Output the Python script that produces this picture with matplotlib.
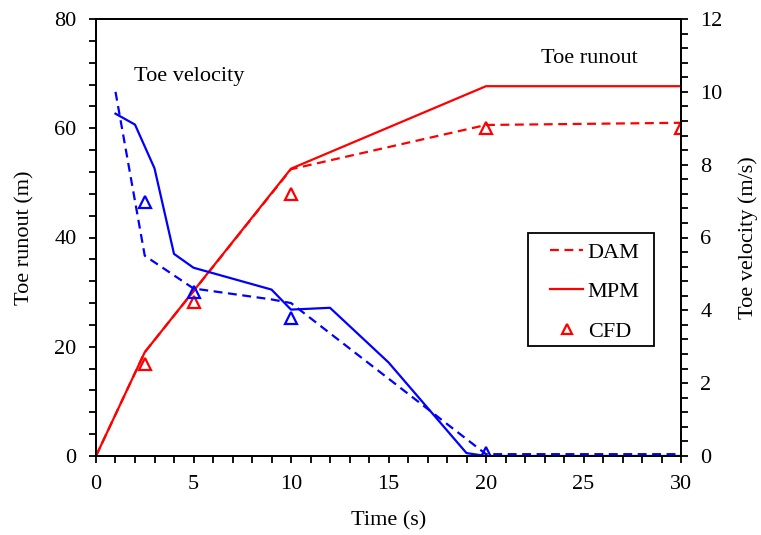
import matplotlib
matplotlib.use("Agg")
import matplotlib.pyplot as plt
from matplotlib.patches import Rectangle
from matplotlib.ticker import MultipleLocator

plt.rcParams['font.family'] = ['Liberation Serif', 'DejaVu Serif']
plt.rcParams['font.size'] = 16

# toe runout (m), left axis
dam_run_t = [0, 2.5, 10, 20, 30]
dam_run = [0, 19, 52.5, 60.6, 61.0]
mpm_run_t = [0, 2.5, 10, 20, 30]
mpm_run = [0, 19, 52.6, 67.7, 67.7]
cfd_run_t = [2.5, 5, 10, 20, 30]
cfd_run = [16.9, 28.2, 48.0, 60.0, 60.0]

# toe velocity (m/s), right axis
dam_vel_t = [1, 2.5, 5, 9, 10, 20, 30]
dam_vel = [10.0, 5.5, 4.6, 4.3, 4.2, 0.05, 0.05]
mpm_vel_t = [1, 2, 3, 4, 5, 9, 10, 12, 15, 19, 20, 30]
mpm_vel = [9.4, 9.1, 7.9, 5.55, 5.17, 4.57, 4.02, 4.07, 2.57, 0.08, 0.0, 0.0]
cfd_vel_t = [2.5, 5, 10, 20]
cfd_vel = [6.97, 4.5, 3.8, 0.09]

red = '#ff0000'
blue = '#0000ff'
dash = (0, (4, 2.5))

W, H = 761, 535
fig = plt.figure(figsize=(W / 100, H / 100), dpi=100)
ax = fig.add_axes([96 / W, 1 - 456 / H, 585 / W, 437 / H])
ax2 = ax.twinx()

l1, = ax.plot(dam_run_t, dam_run, color=red, lw=1.6, linestyle=dash, label='DAM')
l2, = ax.plot(mpm_run_t, mpm_run, color=red, lw=1.6, label='MPM')
l3, = ax.plot(cfd_run_t, cfd_run, linestyle='none', marker='^', ms=8,
              mfc='none', mec=red, mew=1.6, label='CFD')

ax2.plot(dam_vel_t, dam_vel, color=blue, lw=1.6, linestyle=dash)
ax2.plot(mpm_vel_t, mpm_vel, color=blue, lw=1.6)
ax2.plot(cfd_vel_t, cfd_vel, linestyle='none', marker='^', ms=8,
         mfc='none', mec=blue, mew=1.6)

ax.set_xlim(0, 30)
ax.set_ylim(0, 80)
ax2.set_ylim(0, 12)
ax.xaxis.set_major_locator(MultipleLocator(5))
ax.xaxis.set_minor_locator(MultipleLocator(1))
ax.yaxis.set_major_locator(MultipleLocator(20))
ax.yaxis.set_minor_locator(MultipleLocator(4))
ax2.yaxis.set_major_locator(MultipleLocator(2))
ax2.yaxis.set_minor_locator(MultipleLocator(0.4))

for a in (ax, ax2):
    a.tick_params(which='both', direction='out', length=5, width=1.3, pad=9)
    for s in a.spines.values():
        s.set_linewidth(1.3)

ax.set_xlabel('Time (s)', labelpad=12)
ax.set_ylabel('Toe runout (m)', labelpad=14)
ax2.set_ylabel('Toe velocity (m/s)', labelpad=11)

ax.text(4.8, 69.5, 'Toe velocity', ha='center', va='center')
ax.text(25.3, 72.8, 'Toe runout', ha='center', va='center')

# legend entries without frame, frame drawn separately
leg = ax2.legend([l1, l2, l3], ['DAM', 'MPM', 'CFD'], loc='upper left',
                 bbox_to_anchor=(550 / W, 1 - 242 / H), bbox_transform=fig.transFigure,
                 frameon=False, borderpad=0, borderaxespad=0,
                 handlelength=1.5, labelspacing=0.86, handletextpad=0.2,
                 markerscale=0.9)
fig.patches.append(Rectangle((528 / W, 1 - 346 / H), 126 / W, 113 / H,
                             transform=fig.transFigure, fill=False,
                             edgecolor='black', lw=1.3))

fig.savefig('out.png', dpi=100)
